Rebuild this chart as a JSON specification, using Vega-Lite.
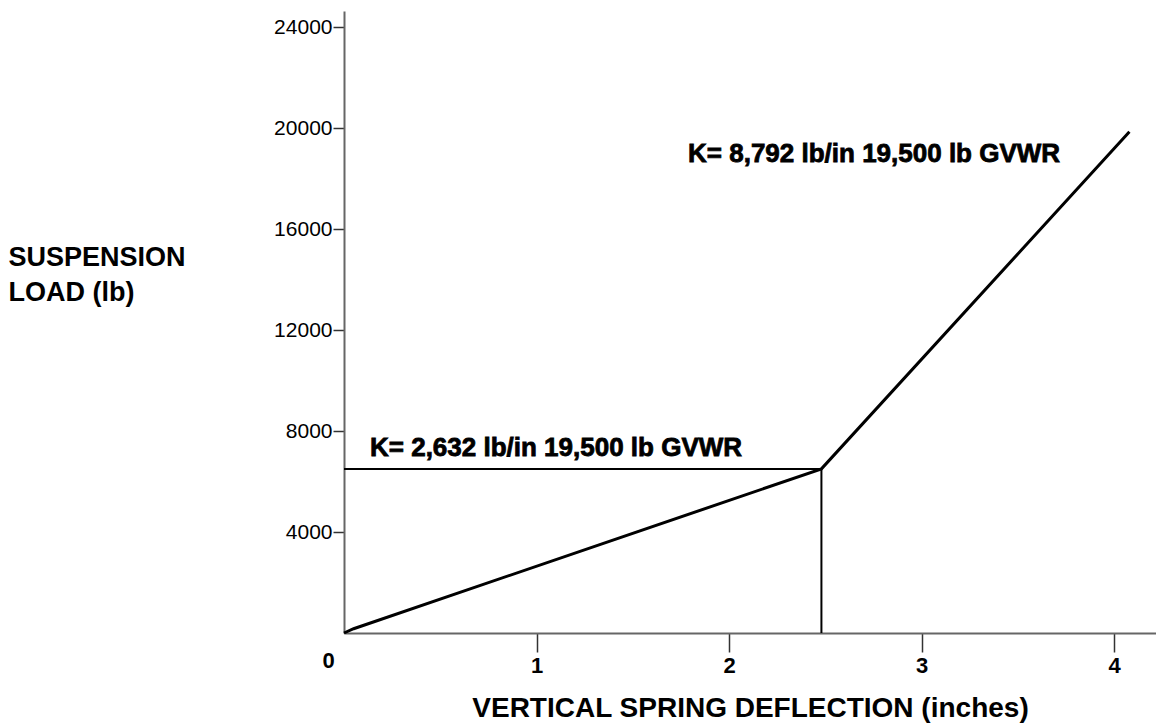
{
  "$schema": "https://vega.github.io/schema/vega-lite/v6.json",
  "width": 812,
  "height": 622,
  "autosize": "none",
  "padding": {"left": 344, "top": 11, "right": 0, "bottom": 92},
  "background": "white",
  "config": {
    "view": {"stroke": null},
    "axis": {
      "grid": false,
      "domainColor": "#666666", "domainWidth": 2,
      "tickColor": "#333333", "tickWidth": 1.5,
      "labelFont": "Liberation Sans", "labelColor": "black",
      "labelFlush": false, "labelOverlap": false,
      "titleFont": "Liberation Sans", "titleFontWeight": "bold", "titleColor": "black",
      "format": "d"
    },
    "axisX": {
      "tickSize": 19,
      "labelFontWeight": "bold", "labelFontSize": 22,
      "titleFontSize": 28, "titleBaseline": "alphabetic", "titleY": 83
    },
    "axisY": {
      "tickSize": 11,
      "labelFontSize": 21, "labelPadding": 1,
      "titleFontSize": 27, "titleAngle": 0, "titleAlign": "left", "titleBaseline": "top",
      "titleX": -336, "titleY": 233, "titleLineHeight": 35
    }
  },
  "datasets": {
    "curve": [
      {"deflection": 0, "load": 0},
      {"deflection": 0.05, "load": 170},
      {"deflection": 2.48, "load": 6500},
      {"deflection": 4.08, "load": 19850}
    ],
    "knee": [{"deflection": 2.48, "load": 6500, "start": 0}],
    "notes": [
      {"deflection": 0.135, "load": 7010, "label": "K= 2,632 lb/in 19,500 lb GVWR"},
      {"deflection": 1.787, "load": 18650, "label": "K= 8,792 lb/in 19,500 lb GVWR"}
    ]
  },
  "layer": [
    {
      "data": {"name": "curve"},
      "mark": {"type": "line", "color": "black", "strokeWidth": 3, "strokeJoin": "miter"},
      "encoding": {
        "x": {
          "field": "deflection", "type": "quantitative",
          "title": "VERTICAL SPRING DEFLECTION (inches)",
          "scale": {"domain": [0, 4.218], "nice": false, "zero": false},
          "axis": {
            "values": [0, 1, 2, 3, 4],
            "tickSize": 19,
            "tickColor": {"condition": {"test": "datum.value == 0", "value": "rgba(0,0,0,0)"}, "value": "#333333"},
            "labelPadding": {"condition": {"test": "datum.value == 0", "value": -2}, "value": 3},
            "labelOffset": {"condition": {"test": "datum.value == 0", "value": -16}, "value": 0}
          }
        },
        "y": {
          "field": "load", "type": "quantitative",
          "title": ["SUSPENSION", "LOAD (lb)"],
          "scale": {"domain": [0, 24634], "nice": false},
          "axis": {"values": [4000, 8000, 12000, 16000, 20000, 24000], "tickSize": 11}
        }
      }
    },
    {
      "data": {"name": "knee"},
      "mark": {"type": "rule", "color": "black", "strokeWidth": 2},
      "encoding": {
        "x": {"field": "start", "type": "quantitative", "title": "VERTICAL SPRING DEFLECTION (inches)"},
        "x2": {"field": "deflection"},
        "y": {"field": "load", "type": "quantitative", "title": ["SUSPENSION", "LOAD (lb)"]}
      }
    },
    {
      "data": {"name": "knee"},
      "mark": {"type": "rule", "color": "black", "strokeWidth": 2},
      "encoding": {
        "x": {"field": "deflection", "type": "quantitative", "title": "VERTICAL SPRING DEFLECTION (inches)"},
        "y": {"field": "start", "type": "quantitative", "title": ["SUSPENSION", "LOAD (lb)"]},
        "y2": {"field": "load"}
      }
    },
    {
      "data": {"name": "notes"},
      "mark": {"type": "text", "align": "left", "baseline": "alphabetic", "font": "Liberation Sans", "fontWeight": "bold", "fontSize": 26, "color": "black", "stroke": "black", "strokeWidth": 0.8},
      "encoding": {
        "x": {"field": "deflection", "type": "quantitative", "title": "VERTICAL SPRING DEFLECTION (inches)"},
        "y": {"field": "load", "type": "quantitative", "title": ["SUSPENSION", "LOAD (lb)"]},
        "text": {"field": "label"}
      }
    }
  ]
}
